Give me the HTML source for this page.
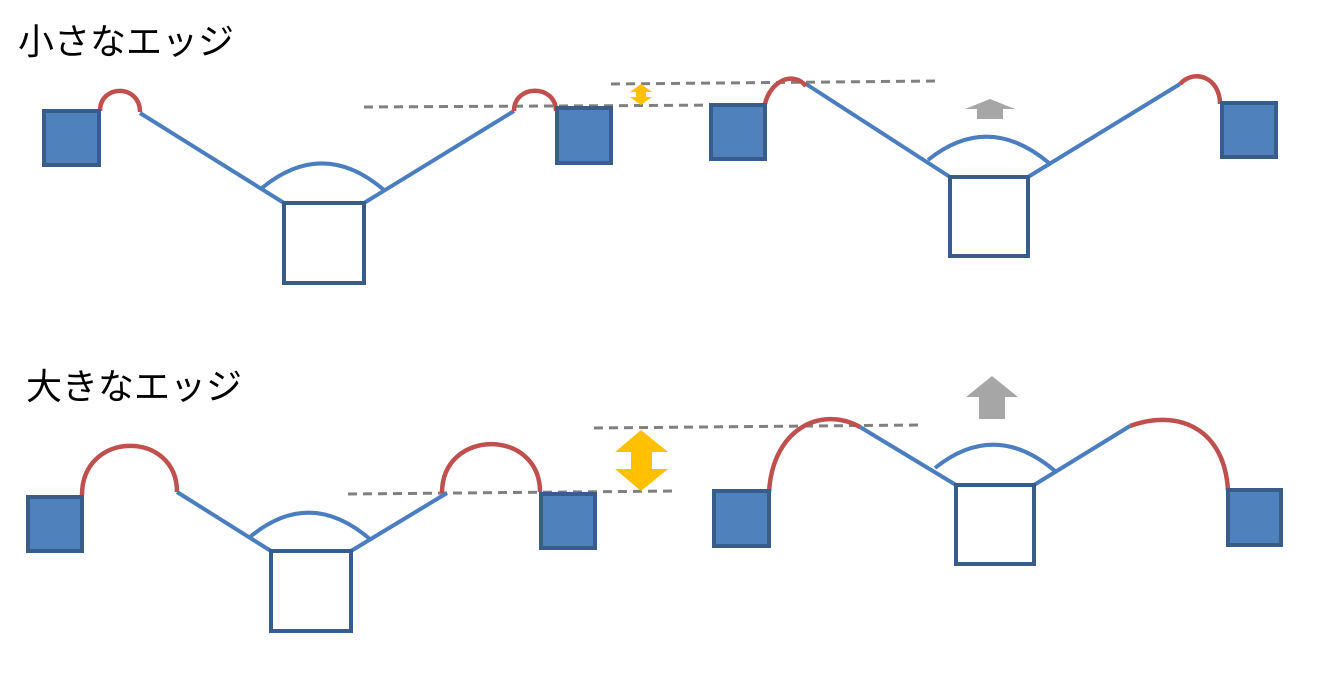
<!DOCTYPE html>
<html><head><meta charset="utf-8"><style>
html,body{margin:0;padding:0;background:#fff;}
svg{display:block}
text{font-family:"Liberation Sans","Noto Sans CJK JP",sans-serif;font-size:36px;fill:#000}
</style></head><body>
<svg width="1333" height="681" viewBox="0 0 1333 681" xmlns="http://www.w3.org/2000/svg">
<text x="18" y="54">小さなエッジ</text>
<text x="26" y="399">大きなエッジ</text>
<g fill="none" stroke-linecap="butt">
<g stroke="#808080" stroke-width="3" stroke-dasharray="9,6">
<line x1="364" y1="107" x2="735" y2="105"/>
<line x1="611" y1="84" x2="937" y2="81"/>
<line x1="348" y1="494" x2="675" y2="491"/>
<line x1="594" y1="428" x2="918" y2="425"/>
</g>
<g stroke="#4a7ebf" stroke-width="4">
<line x1="140" y1="113" x2="284" y2="203"/>
<line x1="364" y1="203" x2="514" y2="111"/>
<path d="M262 188 Q323 138 384 190"/>
<line x1="806" y1="84" x2="950" y2="177"/>
<line x1="1028" y1="177" x2="1180" y2="84"/>
<path d="M928 160 Q988 112 1049 163"/>
<line x1="177" y1="492" x2="271" y2="551"/>
<line x1="351" y1="551" x2="447" y2="493"/>
<path d="M250 537 Q310 487 371 540"/>
<line x1="860" y1="427" x2="956" y2="485"/>
<line x1="1034" y1="485" x2="1130" y2="426"/>
<path d="M935 468 Q995 420 1055 471"/>
</g>
<g stroke="#c0504d" stroke-width="4.5">
<path d="M100 111 C100 84 140 84 140 112"/>
<path d="M514 111 C514 84 556 84 556 111"/>
<path d="M765 104 C770 82 792 70 806 86"/>
<path d="M1180 84 C1195 68 1220 78 1220 104"/>
<path d="M82 495 C82 430 177 430 177 492"/>
<path d="M442 493 C442 428 540 428 540 492"/>
<path d="M769 493 C772 430 820 405 860 427"/>
<path d="M1130 426 C1180 408 1225 430 1228 491"/>
</g>
<g stroke="#385d8a" stroke-width="4">
<rect x="44" y="111" width="55" height="54" fill="#4f81bd"/>
<rect x="557" y="108" width="54" height="55" fill="#4f81bd"/>
<rect x="711" y="105" width="54" height="54" fill="#4f81bd"/>
<rect x="1222" y="103" width="54" height="54" fill="#4f81bd"/>
<rect x="28" y="497" width="54" height="54" fill="#4f81bd"/>
<rect x="541" y="494" width="54" height="54" fill="#4f81bd"/>
<rect x="714" y="491" width="55" height="55" fill="#4f81bd"/>
<rect x="1228" y="490" width="53" height="55" fill="#4f81bd"/>
<rect x="284" y="203" width="80" height="80" fill="#fff"/>
<rect x="950" y="177" width="78" height="79" fill="#fff"/>
<rect x="271" y="551" width="80" height="80" fill="#fff"/>
<rect x="956" y="485" width="78" height="79" fill="#fff"/>
</g>
</g>
<polygon fill="#a6a6a6" points="990,99 1015,109 1003,109 1003,119 977,119 977,109 965,109"/>
<polygon fill="#a6a6a6" points="992,376 1018,397 1005,397 1005,419 979,419 979,397 966,397"/>
<polygon fill="#ffc000" points="641,84 652,92 646,92 646,97 652,97 641,105 630,97 636,97 636,92 630,92"/>
<polygon fill="#ffc000" points="641,430 668,452 652,452 652,469 668,469 641,491 615,469 631,469 631,452 615,452"/>
</svg>
</body></html>
